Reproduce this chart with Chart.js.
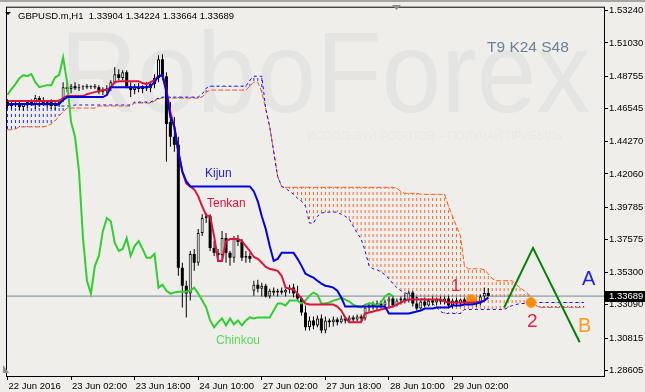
<!DOCTYPE html>
<html>
<head>
<meta charset="utf-8">
<script src="https://cdn.jsdelivr.net/npm/chart.js@4.4.1/dist/chart.umd.min.js"></script>
<style>
html,body{margin:0;padding:0;background:#efeeea;overflow:hidden;}
#wrap{width:645px;height:392px;}
canvas{display:block;}
</style>
</head>
<body>
<div id="wrap"><canvas id="chart" width="645" height="392"></canvas></div>
<script>
// ---------- DATA ----------
const symbolTitle = 'GBPUSD.m,H1';
const xTickBars = [0, 16, 32, 48, 64, 80, 96, 112];
const xTickLabels = ['22 Jun 2016', '23 Jun 02:00', '23 Jun 18:00', '24 Jun 10:00', '27 Jun 02:00', '27 Jun 18:00', '28 Jun 10:00', '29 Jun 02:00'];
const yTickValues = [1.53240, 1.51030, 1.48755, 1.46545, 1.44270, 1.42060, 1.39785, 1.37575, 1.35300, 1.33090, 1.30815, 1.28605];

const openP = [
1.4698,1.4671,1.4691,1.4678,1.4664,1.4684,1.4698,1.4678,1.4725,1.4705,
1.4684,1.4698,1.4671,1.4691,1.4718,1.4800,1.4787,1.4807,1.4793,1.4800,
1.4807,1.4800,1.4807,1.4800,1.4766,1.4780,1.4793,1.4834,1.4889,1.4862,
1.4902,1.4807,1.4780,1.4800,1.4787,1.4807,1.4793,1.4821,1.4862,1.4991,
1.4875,1.4562,1.4460,1.4406,1.3563,1.3440,1.3386,1.3658,1.3597,1.3801,
1.3903,1.3916,1.3699,1.3665,1.3651,1.3767,1.3665,1.3631,1.3760,1.3740,
1.3631,1.3644,1.3406,1.3447,1.3420,1.3440,1.3366,1.3406,1.3393,1.3406,
1.3393,1.3413,1.3427,1.3386,1.3352,1.3257,1.3155,1.3202,1.3168,1.3216,
1.3134,1.3202,1.3189,1.3209,1.3189,1.3216,1.3202,1.3223,1.3209,1.3229,
1.3216,1.3291,1.3311,1.3297,1.3318,1.3304,1.3332,1.3352,1.3304,1.3338,
1.3352,1.3338,1.3393,1.3318,1.3284,1.3332,1.3304,1.3338,1.3325,1.3345,
1.3332,1.3352,1.3304,1.3338,1.3318,1.3345,1.3325,1.3345,1.3332,1.3318,
1.3366,1.33904];
const highP = [
1.4718,1.4705,1.4712,1.4698,1.4691,1.4705,1.4718,1.4746,1.4739,1.4732,
1.4712,1.4718,1.4705,1.4718,1.4834,1.4834,1.4821,1.4834,1.4821,1.4814,
1.4821,1.4814,1.4821,1.4814,1.4800,1.4814,1.4848,1.4936,1.4923,1.4916,
1.4916,1.4834,1.4821,1.4828,1.4814,1.4834,1.4834,1.4889,1.5018,1.5025,
1.4902,1.4698,1.4596,1.4460,1.3597,1.3474,1.3678,1.3692,1.3828,1.3930,
1.3937,1.3930,1.3746,1.3692,1.3814,1.3801,1.3678,1.3780,1.3787,1.3760,
1.3678,1.3665,1.3474,1.3481,1.3461,1.3454,1.3420,1.3427,1.3420,1.3427,
1.3420,1.3447,1.3454,1.3440,1.3366,1.3304,1.3229,1.3229,1.3236,1.3243,
1.3229,1.3216,1.3229,1.3223,1.3236,1.3229,1.3236,1.3236,1.3243,1.3243,
1.3304,1.3325,1.3332,1.3338,1.3338,1.3345,1.3366,1.3372,1.3352,1.3366,
1.3386,1.3406,1.3406,1.3366,1.3352,1.3359,1.3352,1.3366,1.3359,1.3366,
1.3366,1.3372,1.3352,1.3359,1.3352,1.3359,1.3359,1.3366,1.3359,1.3379,
1.3427,1.34224];
const lowP = [
1.4657,1.4650,1.4664,1.4644,1.4637,1.4657,1.4671,1.4650,1.4664,1.4671,
1.4657,1.4650,1.4644,1.4664,1.4698,1.4766,1.4759,1.4780,1.4773,1.4780,
1.4787,1.4787,1.4787,1.4752,1.4746,1.4759,1.4773,1.4821,1.4848,1.4848,
1.4793,1.4732,1.4752,1.4766,1.4759,1.4773,1.4766,1.4793,1.4834,1.4848,
1.4290,1.4392,1.4358,1.3508,1.3291,1.3223,1.3338,1.3542,1.3576,1.3780,
1.3869,1.3678,1.3644,1.3624,1.3624,1.3597,1.3576,1.3597,1.3712,1.3610,
1.3597,1.3597,1.3372,1.3393,1.3366,1.3359,1.3352,1.3372,1.3366,1.3379,
1.3366,1.3386,1.3359,1.3338,1.3236,1.3134,1.3134,1.3141,1.3155,1.3114,
1.3114,1.3155,1.3161,1.3168,1.3182,1.3182,1.3189,1.3189,1.3195,1.3195,
1.3202,1.3263,1.3277,1.3270,1.3284,1.3277,1.3284,1.3291,1.3297,1.3311,
1.3318,1.3325,1.3297,1.3270,1.3277,1.3291,1.3297,1.3304,1.3304,1.3311,
1.3311,1.3291,1.3284,1.3297,1.3304,1.3311,1.3304,1.3311,1.3297,1.3304,
1.3338,1.33664];
const closeP = [
1.4671,1.4691,1.4678,1.4664,1.4684,1.4698,1.4678,1.4725,1.4705,1.4684,
1.4698,1.4671,1.4691,1.4712,1.4800,1.4787,1.4807,1.4793,1.4800,1.4807,
1.4800,1.4807,1.4800,1.4766,1.4780,1.4793,1.4834,1.4889,1.4862,1.4902,
1.4807,1.4780,1.4800,1.4787,1.4807,1.4793,1.4821,1.4862,1.4991,1.4875,
1.4548,1.4460,1.4406,1.3563,1.3440,1.3386,1.3658,1.3597,1.3801,1.3903,
1.3916,1.3699,1.3665,1.3651,1.3767,1.3665,1.3631,1.3760,1.3740,1.3631,
1.3644,1.3624,1.3447,1.3420,1.3440,1.3366,1.3406,1.3393,1.3406,1.3393,
1.3413,1.3427,1.3386,1.3352,1.3257,1.3155,1.3202,1.3168,1.3216,1.3134,
1.3202,1.3189,1.3209,1.3189,1.3216,1.3202,1.3223,1.3209,1.3229,1.3216,
1.3291,1.3311,1.3297,1.3318,1.3304,1.3332,1.3352,1.3304,1.3338,1.3352,
1.3338,1.3393,1.3318,1.3284,1.3332,1.3304,1.3338,1.3325,1.3345,1.3332,
1.3352,1.3304,1.3338,1.3318,1.3345,1.3325,1.3345,1.3332,1.3318,1.3366,
1.3390,1.33689];

const tenkanSen = [
1.4705,1.4705,1.4705,1.4705,1.4705,1.4705,1.4705,1.4705,1.4705,1.4705,
1.4705,1.4705,1.4705,1.4705,1.4725,1.4739,1.4739,1.4739,1.4739,1.4739,
1.4752,1.4759,1.4766,1.4773,1.4780,1.4780,1.4800,1.4834,1.4841,1.4841,
1.4841,1.4841,1.4841,1.4841,1.4828,1.4821,1.4834,1.4848,1.4875,1.4882,
1.4780,1.4630,1.4528,1.4358,1.4222,1.4141,1.4120,1.4100,1.4052,1.3984,
1.3923,1.3916,1.3780,1.3610,1.3610,1.3746,1.3760,1.3760,1.3760,1.3746,
1.3712,1.3678,1.3637,1.3624,1.3597,1.3569,1.3556,1.3549,1.3542,1.3508,
1.3427,1.3420,1.3413,1.3386,1.3352,1.3318,1.3311,1.3311,1.3311,1.3311,
1.3311,1.3311,1.3311,1.3297,1.3270,1.3223,1.3189,1.3189,1.3189,1.3189,
1.3250,1.3257,1.3263,1.3270,1.3277,1.3284,1.3291,1.3297,1.3311,1.3325,
1.3338,1.3345,1.3345,1.3345,1.3345,1.3345,1.3345,1.3345,1.3345,1.3345,
1.3332,1.3325,1.3325,1.3325,1.3325,1.3325,1.3325,1.3325,1.3325,1.3332,
1.3338,1.3359];
const kijunSen = [
1.4684,1.4684,1.4684,1.4684,1.4684,1.4684,1.4684,1.4684,1.4684,1.4684,
1.4684,1.4684,1.4684,1.4684,1.4712,1.4732,1.4732,1.4732,1.4732,1.4732,
1.4732,1.4732,1.4732,1.4732,1.4732,1.4746,1.4800,1.4800,1.4800,1.4800,
1.4800,1.4800,1.4800,1.4800,1.4800,1.4800,1.4807,1.4834,1.4875,1.4882,
1.4766,1.4596,1.4528,1.4358,1.4222,1.4154,1.4120,1.4120,1.4120,1.4120,
1.4120,1.4120,1.4120,1.4120,1.4120,1.4120,1.4120,1.4120,1.4120,1.4120,
1.4120,1.4120,1.4086,1.4018,1.3916,1.3828,1.3712,1.3610,1.3624,1.3665,
1.3665,1.3665,1.3665,1.3624,1.3576,1.3522,1.3508,1.3495,1.3474,1.3454,
1.3440,1.3434,1.3427,1.3406,1.3359,1.3297,1.3297,1.3297,1.3297,1.3297,
1.3297,1.3297,1.3297,1.3297,1.3297,1.3297,1.3250,1.3250,1.3250,1.3250,
1.3250,1.3250,1.3257,1.3263,1.3270,1.3284,1.3284,1.3284,1.3291,1.3291,
1.3291,1.3291,1.3304,1.3304,1.3304,1.3311,1.3311,1.3311,1.3318,1.3325,
1.3338,1.3359];
const chinkouSpan = [
1.4746,1.4787,1.4821,1.4862,1.4882,1.4875,1.4889,1.4834,1.4800,1.4807,
1.4814,1.4814,1.4868,1.4882,1.5004,1.4834,1.4562,1.4460,1.4222,1.3767,
1.3474,1.3386,1.3576,1.3644,1.3814,1.3903,1.3882,1.3733,1.3678,1.3692,
1.3767,1.3644,1.3712,1.3746,1.3692,1.3631,1.3631,1.3658,1.3427,1.3447,
1.3406,1.3386,1.3393,1.3399,1.3399,1.3399,1.3406,1.3427,1.3386,1.3338,
1.3291,1.3202,1.3155,1.3189,1.3216,1.3168,1.3216,1.3175,1.3202,1.3168,
1.3202,1.3223,1.3216,1.3223,1.3223,1.3223,1.3223,1.3270,1.3318,1.3318,
1.3304,1.3338,1.3338,1.3338,1.3318,1.3338,1.3372,1.3393,1.3379,1.3318,
1.3318,1.3325,1.3338,1.3345,1.3359,1.3345,1.3332,1.3311,1.3297,1.3291,
1.3311,1.3318,1.3318,1.3304,1.3325,1.3366,1.3386,1.3369];
const senkouSpanA = [
1.4508,1.4508,1.4514,1.4528,1.4528,1.4528,1.4528,1.4528,1.4528,1.4528,
1.4535,1.4548,1.4569,1.4603,1.4630,1.4657,1.4657,1.4657,1.4657,1.4657,
1.4657,1.4657,1.4657,1.4671,1.4671,1.4671,1.4671,1.4671,1.4671,1.4671,
1.4671,1.4671,1.4691,1.4691,1.4691,1.4691,1.4691,1.4705,1.4718,1.4725,
1.4725,1.4725,1.4725,1.4725,1.4725,1.4725,1.4725,1.4725,1.4725,1.4732,
1.4766,1.4780,1.4780,1.4780,1.4780,1.4780,1.4780,1.4780,1.4780,1.4780,
1.4780,1.4807,1.4834,1.4834,1.4766,1.4650,1.4528,1.4358,1.4188,1.4120,
1.4114,1.4114,1.4114,1.4114,1.4114,1.4114,1.4114,1.4114,1.4114,1.4114,
1.4114,1.4114,1.4114,1.4114,1.4114,1.4114,1.4114,1.4114,1.4114,1.4114,
1.4114,1.4114,1.4114,1.4114,1.4114,1.4114,1.4114,1.4114,1.4107,1.4086,
1.4073,1.4073,1.4073,1.4073,1.4066,1.4066,1.4066,1.4066,1.4066,1.4066,
1.4066,1.3984,1.3916,1.3848,1.3780,1.3576,1.3556,1.3556,1.3556,1.3556,
1.3549,1.3522,1.3488,1.3474,1.3474,1.3474,1.3474,1.3474,1.3447,1.3427,
1.3406,1.3386,1.3352,1.3304,1.3291,1.3291,1.3291,1.3291,1.3291,1.3291,
1.3291,1.3291,1.3291,1.3291,1.3291,1.3291];
const senkouSpanB = [
1.4678,1.4678,1.4678,1.4678,1.4678,1.4678,1.4678,1.4678,1.4678,1.4678,
1.4678,1.4678,1.4678,1.4671,1.4671,1.4671,1.4671,1.4678,1.4678,1.4678,
1.4678,1.4678,1.4678,1.4678,1.4678,1.4678,1.4678,1.4678,1.4678,1.4678,
1.4678,1.4678,1.4698,1.4698,1.4698,1.4698,1.4698,1.4712,1.4725,1.4732,
1.4732,1.4732,1.4732,1.4732,1.4732,1.4732,1.4732,1.4732,1.4732,1.4752,
1.4793,1.4807,1.4807,1.4807,1.4807,1.4807,1.4807,1.4807,1.4807,1.4807,
1.4807,1.4848,1.4875,1.4875,1.4875,1.4650,1.4528,1.4358,1.4188,1.4120,
1.4107,1.4086,1.4066,1.4039,1.4018,1.3984,1.3869,1.3869,1.3916,1.3937,
1.3944,1.3944,1.3944,1.3944,1.3930,1.3916,1.3896,1.3848,1.3801,1.3760,
1.3678,1.3576,1.3556,1.3549,1.3535,1.3515,1.3488,1.3454,1.3427,1.3406,
1.3393,1.3379,1.3366,1.3359,1.3352,1.3345,1.3332,1.3318,1.3291,1.3263,
1.3250,1.3250,1.3250,1.3250,1.3250,1.3277,1.3277,1.3277,1.3277,1.3277,
1.3277,1.3277,1.3277,1.3277,1.3277,1.3277,1.3291,1.3304,1.3311,1.3318,
1.3318,1.3318,1.3318,1.3325,1.3325,1.3325,1.3325,1.3325,1.3325,1.3325,
1.3325,1.3325,1.3325,1.3325,1.3325,1.3325];
const forecastBars = [125, 132.25, 144];
const forecastPrices = [1.3291, 1.3699, 1.3053];
const markerBars = [116.75, 131.75];
const markerPrices = [1.3345, 1.3325];

// ---------- STYLE / LAYOUT ----------
const X_MIN = -0.375, X_MAX = 150.125;
const Y_MIN = 1.28216, Y_MAX = 1.53512;
const FONT = '"Liberation Sans", Arial, sans-serif';
const chartNotes = [
  {text: 'Kijun', x: 205, y: 177, color: '#1c1cd6', size: 12},
  {text: 'Tenkan', x: 207, y: 207, color: '#dc143c', size: 12},
  {text: 'Chinkou', x: 216, y: 344, color: '#5cd65c', size: 12},
  {text: '1', x: 451, y: 291, color: '#e8204a', size: 17},
  {text: '2', x: 527, y: 327, color: '#e8204a', size: 19},
  {text: 'A', x: 582, y: 285, color: '#1f1fe0', size: 20},
  {text: 'B', x: 578, y: 332, color: '#ff9a1e', size: 20},
  {text: 'T9 K24 S48', x: 487, y: 52, color: '#6d7e9a', size: 15.5}
];

const canvas = document.getElementById('chart');
const ctx0 = canvas.getContext('2d');
function hatch(color) {
  const c = document.createElement('canvas');
  c.width = 1; c.height = 6;
  const g = c.getContext('2d');
  g.fillStyle = color;
  g.fillRect(0, 0, 1, 3);
  return ctx0.createPattern(c, 'repeat');
}
const hatchOrange = hatch('#ff6a30');
const hatchBlue = hatch('#2a2aff');

const toXY = arr => arr.map((v, i) => ({x: i, y: v}));
const wicks = closeP.map((c, i) => ({x: i, y: [lowP[i], highP[i]]}));
const bearBodies = [], bullBodies = [];
closeP.forEach((c, i) => {
  const o = openP[i];
  if (c < o) bearBodies.push({x: i, y: [c, o]});
  else bullBodies.push({x: i, y: [o, c]});
});
const cloudUp = [], cloudDown = [];
senkouSpanA.forEach((a, i) => {
  const b = senkouSpanB[i];
  if (a > b) cloudUp.push({x: i, y: [b, a]});
  else if (b > a) cloudDown.push({x: i, y: [a, b]});
});
const lastClose = closeP[closeP.length - 1];

const decoPlugin = {
  id: 'deco',
  beforeDraw(chart) {
    const ctx = chart.ctx, a = chart.chartArea;
    ctx.save();
    ctx.fillStyle = '#efeeea';
    ctx.fillRect(0, 0, chart.width, chart.height);
    ctx.fillStyle = '#a5a5a5';
    ctx.fillRect(0, 0, chart.width, 2);
    // watermark
    ctx.beginPath(); ctx.rect(a.left, a.top, a.width, a.height); ctx.clip();
    ctx.fillStyle = '#e4e4e3';
    ctx.textBaseline = 'alphabetic';
    ctx.textAlign = 'left';
    ctx.font = '115px ' + FONT;
    ctx.fillText('RoboForex', 60, 112, 530);
    ctx.fillStyle = '#e8e8e6';
    ctx.font = '12px ' + FONT;
    ctx.fillText('ИСПОЛЬЗУЙ РОБОТОВ – ПОЛУЧАЙ ПРИБЫЛЬ', 307, 140, 255);
    ctx.restore();
  },
  afterDatasetsDraw(chart) {
    const ctx = chart.ctx;
    ctx.save();
    ctx.textBaseline = 'alphabetic';
    ctx.textAlign = 'left';
    chartNotes.forEach(n => {
      ctx.font = n.size + 'px ' + FONT;
      ctx.fillStyle = n.color;
      ctx.fillText(n.text, n.x, n.y);
    });
    ctx.restore();
  },
  afterDraw(chart) {
    const ctx = chart.ctx, a = chart.chartArea;
    ctx.save();
    // frame
    ctx.strokeStyle = '#000';
    ctx.lineWidth = 1;
    ctx.strokeRect(a.left + 0.5, a.top + 0.5, a.right - a.left, a.bottom - a.top);
    // title
    ctx.fillStyle = '#000';
    ctx.beginPath(); ctx.moveTo(5, 12); ctx.lineTo(11, 12); ctx.lineTo(8, 15); ctx.closePath(); ctx.fill();
    ctx.font = '9.5px ' + FONT;
    ctx.textBaseline = 'alphabetic';
    const N = closeP.length - 1;
    ctx.fillText(symbolTitle + '  ' + openP[N].toFixed(5) + ' ' + highP[N].toFixed(5) + ' ' + lowP[N].toFixed(5) + ' ' + closeP[N].toFixed(5), 18, 19);
    // shift marker
    ctx.fillStyle = '#8e8e8e';
    ctx.beginPath(); ctx.moveTo(392, 5); ctx.lineTo(401, 5); ctx.lineTo(396.5, 10); ctx.closePath(); ctx.fill();
    ctx.beginPath(); ctx.moveTo(3, 365); ctx.lineTo(3, 373); ctx.lineTo(9, 373); ctx.closePath(); ctx.fill();
    // current price label
    const yp = Math.round(chart.scales.y.getPixelForValue(lastClose));
    ctx.fillStyle = '#000';
    ctx.fillRect(605, yp - 5, 40, 11);
    ctx.fillStyle = '#fff';
    ctx.font = '9.5px ' + FONT;
    ctx.textBaseline = 'middle';
    ctx.fillText(lastClose.toFixed(5), 609, yp + 0.5);
    ctx.restore();
  }
};

const lineBase = {type: 'line', pointRadius: 0, tension: 0, fill: false, borderJoinStyle: 'miter'};
const barBase = {type: 'bar', grouped: false, inflateAmount: 0, borderWidth: 0};

new Chart(canvas, {
  type: 'bar',
  data: {
    datasets: [
      Object.assign({}, barBase, {label: 'Cloud up', data: cloudUp, backgroundColor: hatchOrange, barThickness: 1, order: 12}),
      Object.assign({}, barBase, {label: 'Cloud down', data: cloudDown, backgroundColor: hatchBlue, barThickness: 1, order: 11}),
      Object.assign({}, lineBase, {label: 'Senkou Span A', data: toXY(senkouSpanA), borderColor: '#ff5a1e', borderWidth: 1, borderDash: [5, 2], order: 10}),
      Object.assign({}, lineBase, {label: 'Senkou Span B', data: toXY(senkouSpanB), borderColor: '#1010ff', borderWidth: 1, borderDash: [3, 3], order: 9}),
      Object.assign({}, lineBase, {label: 'Price', data: [{x: X_MIN, y: lastClose}, {x: X_MAX, y: lastClose}], borderColor: '#778899', borderWidth: 1, order: 8}),
      Object.assign({}, barBase, {label: 'Wicks', data: wicks, backgroundColor: '#000', barThickness: 1, order: 7}),
      Object.assign({}, barBase, {label: 'Bear', data: bearBodies, backgroundColor: '#000', barThickness: 3, order: 6}),
      Object.assign({}, barBase, {label: 'Bull', data: bullBodies, backgroundColor: '#fff', borderColor: '#000', borderWidth: 1, borderSkipped: false, barThickness: 3, order: 5}),
      Object.assign({}, lineBase, {label: 'Chinkou', data: toXY(chinkouSpan), borderColor: '#32cd32', borderWidth: 2, order: 4}),
      Object.assign({}, lineBase, {label: 'Markers', data: markerBars.map((b, i) => ({x: b, y: markerPrices[i]})), showLine: false,
        pointRadius: 5, pointBackgroundColor: '#ff8c00', pointBorderColor: '#ffa040', pointBorderWidth: 1, order: 3}),
      Object.assign({}, lineBase, {label: 'Tenkan', data: toXY(tenkanSen), borderColor: '#dc143c', borderWidth: 2, order: 2}),
      Object.assign({}, lineBase, {label: 'Kijun', data: toXY(kijunSen), borderColor: '#0000dd', borderWidth: 2, order: 1}),
      Object.assign({}, lineBase, {label: 'Forecast', data: forecastBars.map((b, i) => ({x: b, y: forecastPrices[i]})), borderColor: '#008000', borderWidth: 2, order: 0})
    ]
  },
  options: {
    responsive: false,
    devicePixelRatio: 1,
    animation: false,
    events: [],
    layout: {padding: {left: 2, top: 4, right: 0, bottom: 0}},
    plugins: {legend: {display: false}, tooltip: {enabled: false}},
    scales: {
      x: {
        type: 'linear', min: X_MIN, max: X_MAX, offset: false,
        grid: {display: true, drawOnChartArea: false, tickLength: 4, tickColor: '#000', offset: false},
        border: {display: false},
        afterBuildTicks: s => { s.ticks = xTickBars.map(v => ({value: v})); },
        afterFit: s => { s.height = 16; },
        ticks: {
          autoSkip: false, maxRotation: 0, minRotation: 0, align: 'start', padding: 1, labelOffset: 1,
          color: '#000', font: {family: FONT, size: 9.5},
          callback: v => { const k = xTickBars.indexOf(v); return k >= 0 ? xTickLabels[k] : ''; }
        }
      },
      y: {
        type: 'linear', position: 'right', min: Y_MIN, max: Y_MAX,
        grid: {display: true, drawOnChartArea: false, tickLength: 4, tickColor: '#000'},
        border: {display: false},
        afterBuildTicks: s => { s.ticks = yTickValues.map(v => ({value: v})); },
        afterFit: s => { s.width = 41; },
        ticks: {
          autoSkip: false, padding: 1, crossAlign: 'near',
          color: '#000', font: {family: FONT, size: 9.5},
          callback: v => Number(v).toFixed(5)
        }
      }
    }
  },
  plugins: [decoPlugin]
});
</script>
</body>
</html>
